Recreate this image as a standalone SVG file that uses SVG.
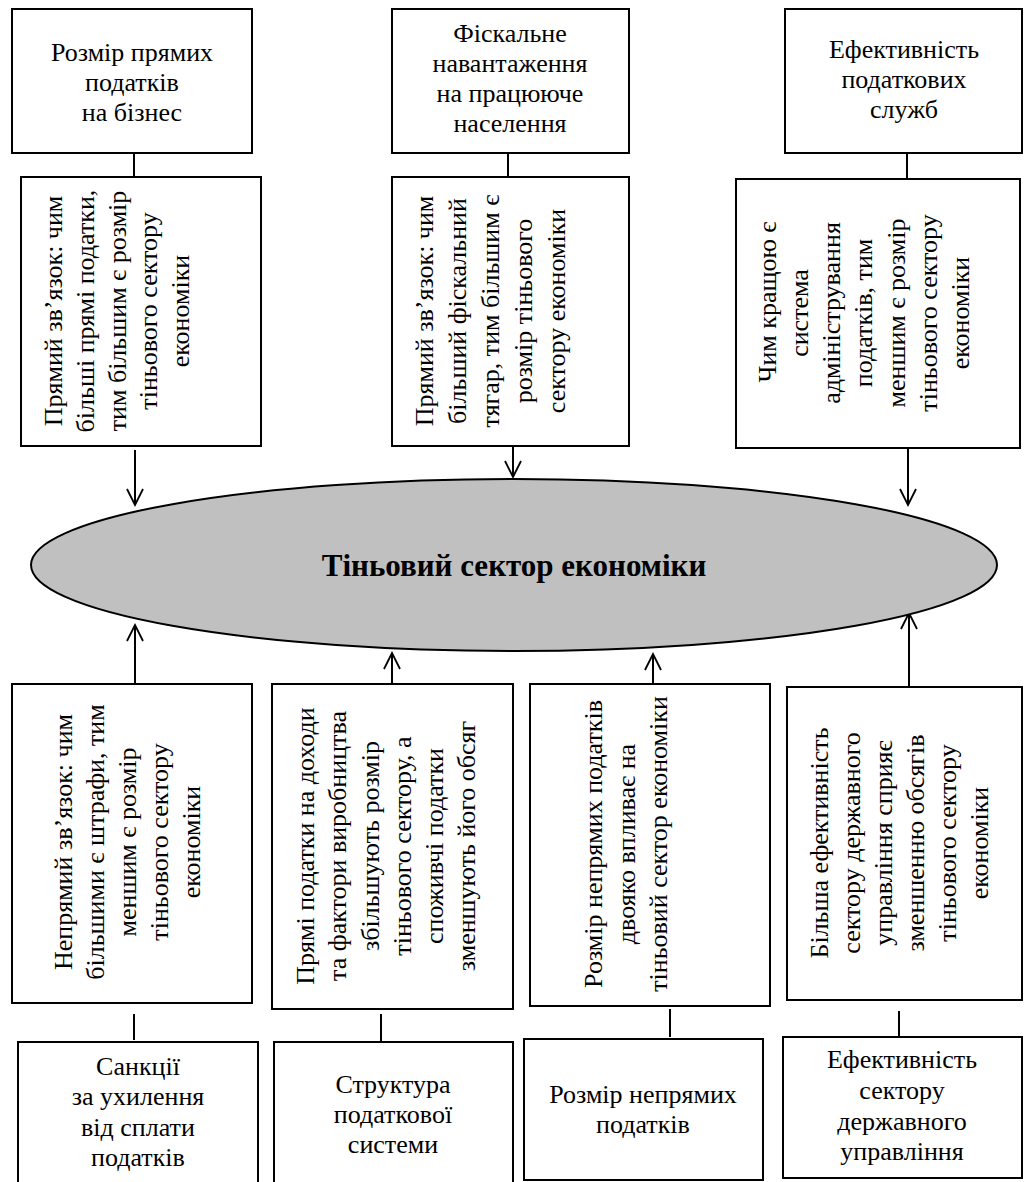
<svg xmlns="http://www.w3.org/2000/svg" width="1024" height="1182" viewBox="0 0 1024 1182">
  <style>
    .box { fill: #ffffff; stroke: #000000; stroke-width: 2; }
    text { font-family: "Liberation Serif", "Times New Roman", serif; fill: #000000; text-anchor: middle; }
    .t { font-size: 26px; }
    .link { stroke: #000000; stroke-width: 2; fill: none; }
    .arrow { stroke: #000000; stroke-width: 2; fill: none; marker-end: url(#openHead); }
    .core { fill: #c0c0c0; stroke: #000000; stroke-width: 2; }
    .coreText { font-size: 31px; font-weight: bold; }
  </style>
  <defs>
    <marker id="openHead" markerUnits="userSpaceOnUse" markerWidth="40" markerHeight="40" refX="0" refY="0" orient="auto" overflow="visible">
      <path d="M -16,-8 L 0,0 L -16,8" fill="none" stroke="#000000" stroke-width="1.8"/>
    </marker>
  </defs>
  <rect width="1024" height="1182" fill="#ffffff"/>

  <!-- connectors -->
  <g id="connectors">
    <line class="link" x1="134" y1="153" x2="134" y2="177"/>
    <line class="link" x1="508" y1="153" x2="508" y2="177"/>
    <line class="link" x1="907" y1="153" x2="907" y2="179"/>
    <line class="arrow" x1="135" y1="450" x2="135" y2="505"/>
    <line class="arrow" x1="513" y1="446" x2="513" y2="477"/>
    <line class="arrow" x1="908" y1="449" x2="908" y2="505"/>
    <line class="arrow" x1="135" y1="684" x2="135" y2="625"/>
    <line class="arrow" x1="392" y1="684" x2="392" y2="653"/>
    <line class="arrow" x1="653" y1="684" x2="653" y2="654"/>
    <line class="arrow" x1="909" y1="687" x2="909" y2="613"/>
    <line class="link" x1="134" y1="1014" x2="134" y2="1040"/>
    <line class="link" x1="381" y1="1014" x2="381" y2="1042"/>
    <line class="link" x1="670" y1="1009" x2="670" y2="1037"/>
    <line class="link" x1="899" y1="1011" x2="899" y2="1037"/>
  </g>

  <!-- central node -->
  <g id="shadow-sector">
    <ellipse class="core" cx="514" cy="565" rx="483" ry="86"/>
    <text class="coreText" x="514" y="576">Тіньовий сектор економіки</text>
  </g>

  <!-- top factors -->
  <g id="direct-taxes">
    <rect class="box" x="12" y="9" width="240" height="144"/>
    <text class="t" x="132" y="61">Розмір прямих</text>
    <text class="t" x="132" y="91">податків</text>
    <text class="t" x="132" y="121">на бізнес</text>
  </g>
  <g id="fiscal-burden">
    <rect class="box" x="392" y="9" width="237" height="144"/>
    <text class="t" x="510" y="42">Фіскальне</text>
    <text class="t" x="510" y="72">навантаження</text>
    <text class="t" x="510" y="102">на працююче</text>
    <text class="t" x="510" y="132">населення</text>
  </g>
  <g id="tax-services">
    <rect class="box" x="785" y="9" width="237" height="144"/>
    <text class="t" x="904" y="58">Ефективність</text>
    <text class="t" x="904" y="88">податкових</text>
    <text class="t" x="904" y="118">служб</text>
  </g>

  <!-- top explanations (vertical text) -->
  <g id="direct-taxes-note">
    <rect class="box" x="21" y="177" width="240" height="269"/>
    <text class="t" transform="translate(62,311) rotate(-90)">Прямий зв’язок: чим</text>
    <text class="t" transform="translate(94,311) rotate(-90)">більші прямі податки,</text>
    <text class="t" transform="translate(126,311) rotate(-90)">тим більшим є розмір</text>
    <text class="t" transform="translate(157,311) rotate(-90)">тіньового сектору</text>
    <text class="t" transform="translate(189,311) rotate(-90)">економіки</text>
  </g>
  <g id="fiscal-burden-note">
    <rect class="box" x="392" y="177" width="237" height="269"/>
    <text class="t" transform="translate(433,311) rotate(-90)">Прямий зв’язок: чим</text>
    <text class="t" transform="translate(466,311) rotate(-90)">більший фіскальний</text>
    <text class="t" transform="translate(499,311) rotate(-90)">тягар, тим більшим є</text>
    <text class="t" transform="translate(532,311) rotate(-90)">розмір тіньового</text>
    <text class="t" transform="translate(565,311) rotate(-90)">сектору економіки</text>
  </g>
  <g id="tax-services-note">
    <rect class="box" x="736" y="179" width="284" height="269"/>
    <text class="t" transform="translate(776,302) rotate(-90)">Чим кращою є</text>
    <text class="t" transform="translate(808,313) rotate(-90)">система</text>
    <text class="t" transform="translate(840,313) rotate(-90)">адміністрування</text>
    <text class="t" transform="translate(872,313) rotate(-90)">податків, тим</text>
    <text class="t" transform="translate(905,313) rotate(-90)">меншим є розмір</text>
    <text class="t" transform="translate(937,313) rotate(-90)">тіньового сектору</text>
    <text class="t" transform="translate(969,313) rotate(-90)">економіки</text>
  </g>

  <!-- bottom explanations (vertical text) -->
  <g id="sanctions-note">
    <rect class="box" x="12" y="684" width="240" height="319"/>
    <text class="t" transform="translate(72,842) rotate(-90)">Непрямий зв’язок: чим</text>
    <text class="t" transform="translate(104,842) rotate(-90)">більшими є штрафи, тим</text>
    <text class="t" transform="translate(136,842) rotate(-90)">меншим є розмір</text>
    <text class="t" transform="translate(168,842) rotate(-90)">тіньового сектору</text>
    <text class="t" transform="translate(200,842) rotate(-90)">економіки</text>
  </g>
  <g id="structure-note">
    <rect class="box" x="272" y="684" width="241" height="325"/>
    <text class="t" transform="translate(314,846) rotate(-90)">Прямі податки на доходи</text>
    <text class="t" transform="translate(346,846) rotate(-90)">та фактори виробництва</text>
    <text class="t" transform="translate(379,846) rotate(-90)">збільшують розмір</text>
    <text class="t" transform="translate(411,846) rotate(-90)">тіньового сектору, а</text>
    <text class="t" transform="translate(443,846) rotate(-90)">споживчі податки</text>
    <text class="t" transform="translate(475,846) rotate(-90)">зменшують його обсяг</text>
  </g>
  <g id="indirect-taxes-note">
    <rect class="box" x="530" y="684" width="240" height="322"/>
    <text class="t" transform="translate(602,844) rotate(-90)">Розмір непрямих податків</text>
    <text class="t" transform="translate(635,844) rotate(-90)">двояко впливає на</text>
    <text class="t" transform="translate(667,844) rotate(-90)">тіньовий сектор економіки</text>
  </g>
  <g id="public-sector-note">
    <rect class="box" x="787" y="687" width="235" height="313"/>
    <text class="t" transform="translate(828,843) rotate(-90)">Більша ефективність</text>
    <text class="t" transform="translate(860,843) rotate(-90)">сектору державного</text>
    <text class="t" transform="translate(892,843) rotate(-90)">управління сприяє</text>
    <text class="t" transform="translate(924,843) rotate(-90)">зменшенню обсягів</text>
    <text class="t" transform="translate(956,843) rotate(-90)">тіньового сектору</text>
    <text class="t" transform="translate(988,843) rotate(-90)">економіки</text>
  </g>

  <!-- bottom factors -->
  <g id="sanctions">
    <rect class="box" x="18" y="1042" width="240" height="160"/>
    <text class="t" x="138" y="1075">Санкції</text>
    <text class="t" x="138" y="1105">за ухилення</text>
    <text class="t" x="138" y="1136">від сплати</text>
    <text class="t" x="138" y="1166">податків</text>
  </g>
  <g id="tax-structure">
    <rect class="box" x="274" y="1042" width="239" height="160"/>
    <text class="t" x="393" y="1093">Структура</text>
    <text class="t" x="393" y="1123">податкової</text>
    <text class="t" x="393" y="1153">системи</text>
  </g>
  <g id="indirect-taxes">
    <rect class="box" x="524" y="1039" width="239" height="141"/>
    <text class="t" x="643" y="1103">Розмір непрямих</text>
    <text class="t" x="643" y="1133">податків</text>
  </g>
  <g id="public-sector">
    <rect class="box" x="783" y="1037" width="239" height="141"/>
    <text class="t" x="902" y="1068">Ефективність</text>
    <text class="t" x="902" y="1099">сектору</text>
    <text class="t" x="902" y="1130">державного</text>
    <text class="t" x="902" y="1160">управління</text>
  </g>
</svg>
